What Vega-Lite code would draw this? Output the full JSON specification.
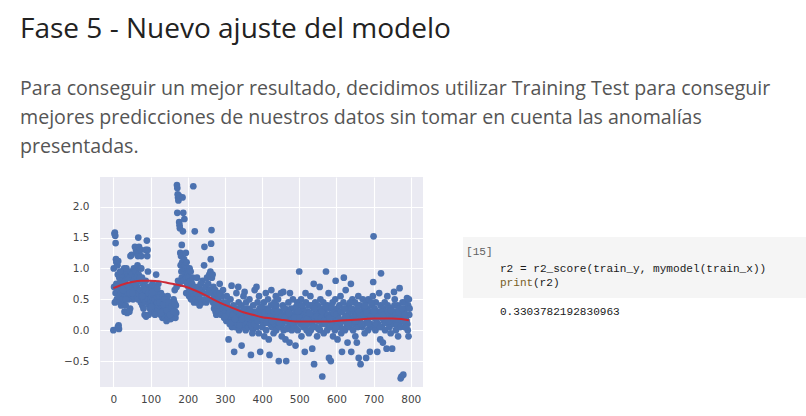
{
  "$schema": "https://vega.github.io/schema/vega-lite/v6.json",
  "background": "white",
  "padding": {"left": 20, "top": 16, "right": 0, "bottom": 0},
  "title": {
    "text": "Fase 5 - Nuevo ajuste del modelo",
    "subtitle": [
      "Para conseguir un mejor resultado, decidimos utilizar Training Test para conseguir",
      "mejores predicciones de nuestros datos sin tomar en cuenta las anomalías",
      "presentadas."
    ],
    "anchor": "start",
    "frame": "bounds",
    "dx": -43.5,
    "font": "Open Sans",
    "fontSize": 28,
    "fontWeight": "normal",
    "color": "#222222",
    "subtitleFont": "Open Sans",
    "subtitleFontSize": 19.6,
    "subtitleColor": "#555555",
    "subtitleLineHeight": 29,
    "subtitlePadding": 36,
    "offset": 20
  },
  "datasets": {
    "pts": [
      {"x":0,"y":0.0},{"x":1,"y":1.0},{"x":3,"y":1.56},{"x":4,"y":1.58},{"x":5,"y":1.53},{"x":6,"y":1.41},{"x":7,"y":1.15},{"x":8,"y":1.1},{"x":4,"y":0.45},{"x":9,"y":0.5},{"x":6,"y":0.6},{"x":8,"y":0.75},{"x":2,"y":0.7},
      {"x":12,"y":0.05},{"x":14,"y":0.08},{"x":15,"y":0.02},{"x":11,"y":1.05},{"x":13,"y":1.12},{"x":16,"y":0.85},{"x":17,"y":0.75},{"x":18,"y":0.45},{"x":19,"y":0.65},{"x":12,"y":0.9},{"x":15,"y":0.55},{"x":20,"y":0.8},
      {"x":21,"y":0.4},{"x":22,"y":0.7},{"x":23,"y":0.95},{"x":24,"y":0.55},{"x":25,"y":0.85},{"x":26,"y":0.45},{"x":27,"y":0.75},{"x":28,"y":0.6},{"x":29,"y":1.0},{"x":30,"y":0.3},{"x":24,"y":0.9},{"x":27,"y":0.5},
      {"x":31,"y":0.65},{"x":32,"y":0.8},{"x":33,"y":0.4},{"x":34,"y":0.95},{"x":35,"y":0.7},{"x":36,"y":0.55},{"x":37,"y":0.28},{"x":38,"y":0.85},{"x":39,"y":0.6},{"x":40,"y":0.9},{"x":35,"y":1.0},{"x":33,"y":0.75},
      {"x":41,"y":0.5},{"x":42,"y":0.7},{"x":43,"y":0.65},{"x":44,"y":0.85},{"x":45,"y":0.35},{"x":46,"y":1.2},{"x":47,"y":0.95},{"x":48,"y":0.6},{"x":49,"y":1.22},{"x":50,"y":0.75},{"x":43,"y":0.3},{"x":47,"y":0.55},
      {"x":51,"y":0.9},{"x":52,"y":0.7},{"x":53,"y":0.5},{"x":54,"y":0.8},{"x":55,"y":1.0},{"x":56,"y":0.65},{"x":57,"y":0.85},{"x":58,"y":1.35},{"x":59,"y":0.6},{"x":60,"y":0.95},{"x":55,"y":0.55},
      {"x":61,"y":1.3},{"x":62,"y":0.55},{"x":63,"y":1.25},{"x":64,"y":0.7},{"x":65,"y":1.05},{"x":66,"y":0.5},{"x":67,"y":1.5},{"x":68,"y":0.9},{"x":69,"y":1.35},{"x":70,"y":0.8},{"x":66,"y":1.2},{"x":68,"y":0.6},
      {"x":71,"y":1.0},{"x":72,"y":0.65},{"x":73,"y":1.3},{"x":74,"y":0.45},{"x":75,"y":1.2},{"x":76,"y":0.55},{"x":77,"y":0.85},{"x":78,"y":0.4},{"x":79,"y":0.75},{"x":80,"y":0.6},{"x":75,"y":1.0},
      {"x":81,"y":0.35},{"x":82,"y":0.5},{"x":83,"y":0.7},{"x":84,"y":0.25},{"x":85,"y":0.6},{"x":86,"y":0.45},{"x":87,"y":0.8},{"x":88,"y":0.22},{"x":89,"y":0.55},{"x":90,"y":1.45},{"x":87,"y":1.3},
      {"x":91,"y":1.2},{"x":92,"y":1.3},{"x":93,"y":0.95},{"x":94,"y":0.5},{"x":95,"y":0.7},{"x":96,"y":0.4},{"x":97,"y":0.6},{"x":98,"y":0.35},{"x":99,"y":0.65},{"x":100,"y":0.5},{"x":95,"y":0.25},
      {"x":10,"y":0.7},{"x":18,"y":0.95},{"x":26,"y":0.65},{"x":34,"y":0.5},{"x":44,"y":0.6},{"x":52,"y":0.6},{"x":58,"y":0.75},{"x":64,"y":0.85},{"x":72,"y":0.85},{"x":78,"y":0.55},{"x":86,"y":0.65},{"x":94,"y":0.6},
      {"x":101,"y":0.45},{"x":102,"y":0.6},{"x":103,"y":0.3},{"x":104,"y":0.55},{"x":105,"y":0.75},{"x":106,"y":0.4},{"x":107,"y":0.5},{"x":108,"y":0.35},{"x":109,"y":0.65},{"x":110,"y":0.45},
      {"x":111,"y":0.3},{"x":112,"y":0.5},{"x":113,"y":0.7},{"x":114,"y":0.4},{"x":115,"y":0.9},{"x":116,"y":0.55},{"x":117,"y":0.3},{"x":118,"y":0.45},{"x":119,"y":0.6},{"x":120,"y":0.35},
      {"x":121,"y":0.75},{"x":122,"y":0.4},{"x":123,"y":0.5},{"x":124,"y":0.3},{"x":125,"y":0.55},{"x":126,"y":0.45},{"x":127,"y":0.25},{"x":128,"y":0.6},{"x":129,"y":0.35},{"x":130,"y":0.5},
      {"x":131,"y":0.4},{"x":132,"y":0.2},{"x":133,"y":0.55},{"x":134,"y":0.3},{"x":135,"y":0.45},{"x":136,"y":0.25},{"x":137,"y":0.5},{"x":138,"y":0.35},{"x":139,"y":0.2},{"x":140,"y":0.4},
      {"x":141,"y":0.3},{"x":142,"y":0.5},{"x":143,"y":0.15},{"x":144,"y":0.45},{"x":145,"y":0.25},{"x":146,"y":0.55},{"x":147,"y":0.35},{"x":148,"y":0.2},{"x":149,"y":0.4},{"x":150,"y":0.3},
      {"x":151,"y":0.2},{"x":152,"y":0.45},{"x":153,"y":0.3},{"x":154,"y":0.18},{"x":155,"y":0.35},{"x":156,"y":0.25},{"x":157,"y":0.4},{"x":158,"y":0.2},{"x":159,"y":0.3},{"x":160,"y":0.22},
      {"x":161,"y":0.35},{"x":162,"y":0.5},{"x":163,"y":0.25},{"x":164,"y":0.45},{"x":165,"y":0.65},{"x":166,"y":0.3},{"x":167,"y":0.2},{"x":168,"y":0.4},{"x":169,"y":0.28},{"x":170,"y":0.7},
      {"x":102,"y":0.38},{"x":106,"y":0.62},{"x":112,"y":0.25},{"x":118,"y":0.68},{"x":124,"y":0.45},{"x":128,"y":0.28},{"x":134,"y":0.42},{"x":138,"y":0.5},{"x":144,"y":0.32},{"x":148,"y":0.45},{"x":152,"y":0.25},{"x":156,"y":0.38},{"x":162,"y":0.3},{"x":166,"y":0.42},
      {"x":171,"y":2.35},{"x":172,"y":2.3},{"x":173,"y":2.2},{"x":174,"y":2.15},{"x":175,"y":2.1},{"x":172,"y":1.9},{"x":176,"y":2.18},{"x":177,"y":1.75},{"x":178,"y":1.7},{"x":179,"y":1.65},{"x":174,"y":0.8},{"x":178,"y":0.75},{"x":180,"y":1.25},
      {"x":181,"y":1.05},{"x":182,"y":1.2},{"x":183,"y":0.95},{"x":184,"y":1.38},{"x":185,"y":1.1},{"x":186,"y":2.15},{"x":187,"y":1.6},{"x":188,"y":1.9},{"x":189,"y":1.0},{"x":190,"y":1.15},{"x":184,"y":0.85},{"x":188,"y":0.8},
      {"x":191,"y":1.8},{"x":192,"y":1.05},{"x":193,"y":0.9},{"x":194,"y":1.0},{"x":195,"y":1.25},{"x":196,"y":0.85},{"x":197,"y":1.1},{"x":198,"y":0.75},{"x":199,"y":0.95},{"x":200,"y":1.0},{"x":196,"y":0.6},
      {"x":201,"y":0.9},{"x":202,"y":0.7},{"x":203,"y":0.85},{"x":204,"y":0.55},{"x":205,"y":1.0},{"x":206,"y":0.6},{"x":207,"y":0.8},{"x":208,"y":0.95},{"x":209,"y":0.5},{"x":210,"y":0.7},
      {"x":211,"y":0.6},{"x":212,"y":0.75},{"x":213,"y":0.85},{"x":215,"y":2.33},{"x":216,"y":0.55},{"x":217,"y":0.45},{"x":219,"y":1.6},{"x":220,"y":0.65},{"x":214,"y":0.5},{"x":218,"y":0.7},
      {"x":222,"y":0.5},{"x":224,"y":0.6},{"x":226,"y":0.45},{"x":228,"y":0.7},{"x":230,"y":0.55},{"x":232,"y":0.4},{"x":234,"y":0.5},{"x":236,"y":0.65},{"x":238,"y":0.45},{"x":240,"y":0.8},{"x":225,"y":0.85},{"x":235,"y":0.75},
      {"x":242,"y":0.6},{"x":244,"y":1.05},{"x":245,"y":1.35},{"x":246,"y":0.5},{"x":248,"y":0.7},{"x":250,"y":0.45},{"x":252,"y":0.85},{"x":254,"y":0.6},{"x":256,"y":0.5},{"x":258,"y":0.9},{"x":260,"y":0.65},{"x":255,"y":0.75},
      {"x":261,"y":0.95},{"x":262,"y":1.15},{"x":263,"y":1.4},{"x":264,"y":1.62},{"x":265,"y":0.85},{"x":266,"y":0.6},{"x":267,"y":0.9},{"x":268,"y":0.45},{"x":269,"y":0.7},{"x":270,"y":0.5},
      {"x":271,"y":0.35},{"x":272,"y":0.55},{"x":273,"y":0.4},{"x":274,"y":0.65},{"x":275,"y":0.3},{"x":276,"y":0.5},{"x":277,"y":0.25},{"x":278,"y":0.45},{"x":279,"y":0.6},{"x":280,"y":0.35},
      {"x":282,"y":0.5},{"x":284,"y":0.3},{"x":286,"y":0.75},{"x":288,"y":0.4},{"x":290,"y":0.25},{"x":292,"y":0.55},{"x":294,"y":0.35},{"x":296,"y":0.45},{"x":298,"y":0.2},{"x":300,"y":0.4},{"x":285,"y":0.6},{"x":295,"y":0.65},
      {"x":302,"y":0.3},{"x":304,"y":0.15},{"x":306,"y":0.45},{"x":308,"y":0.25},{"x":310,"y":-0.15},{"x":311,"y":0.35},{"x":313,"y":0.1},{"x":315,"y":0.5},{"x":316,"y":0.2},{"x":318,"y":0.72},{"x":319,"y":0.05},{"x":320,"y":0.3},{"x":305,"y":0.55},
      {"x":322,"y":0.15},{"x":323,"y":0.4},{"x":325,"y":-0.35},{"x":326,"y":0.25},{"x":328,"y":0.05},{"x":330,"y":0.35},{"x":331,"y":0.6},{"x":333,"y":0.1},{"x":335,"y":0.2},{"x":337,"y":0.45},{"x":338,"y":0.0},{"x":340,"y":0.3},{"x":336,"y":0.7},
      {"x":342,"y":0.15},{"x":344,"y":0.4},{"x":345,"y":-0.25},{"x":347,"y":0.05},{"x":349,"y":0.25},{"x":350,"y":0.55},{"x":352,"y":0.1},{"x":354,"y":0.3},{"x":356,"y":0.0},{"x":357,"y":0.45},{"x":358,"y":0.2},{"x":360,"y":0.12},{"x":353,"y":0.62},
      {"x":362,"y":0.35},{"x":363,"y":0.05},{"x":365,"y":0.25},{"x":366,"y":0.5},{"x":368,"y":0.1},{"x":370,"y":-0.4},{"x":371,"y":0.3},{"x":373,"y":0.15},{"x":375,"y":0.0},{"x":376,"y":0.4},{"x":378,"y":0.2},{"x":380,"y":0.65},{"x":374,"y":-0.05},
      {"x":382,"y":0.1},{"x":384,"y":0.3},{"x":385,"y":0.7},{"x":386,"y":0.05},{"x":388,"y":0.45},{"x":390,"y":0.2},{"x":391,"y":-0.05},{"x":393,"y":0.35},{"x":395,"y":-0.35},{"x":396,"y":0.15},{"x":398,"y":0.25},{"x":400,"y":0.05},{"x":392,"y":0.55},
      {"x":402,"y":0.3},{"x":403,"y":0.1},{"x":405,"y":0.45},{"x":406,"y":-0.1},{"x":408,"y":0.2},{"x":410,"y":0.6},{"x":411,"y":0.0},{"x":413,"y":0.35},{"x":415,"y":0.15},{"x":416,"y":0.5},{"x":418,"y":-0.15},{"x":420,"y":-0.4},{"x":419,"y":0.25},
      {"x":422,"y":0.1},{"x":424,"y":0.4},{"x":425,"y":0.65},{"x":426,"y":0.05},{"x":428,"y":0.3},{"x":430,"y":0.2},{"x":431,"y":-0.05},{"x":433,"y":0.45},{"x":435,"y":0.1},{"x":436,"y":0.35},{"x":438,"y":0.0},{"x":440,"y":0.25},{"x":437,"y":0.55},
      {"x":442,"y":0.15},{"x":443,"y":0.5},{"x":445,"y":-0.5},{"x":446,"y":0.05},{"x":448,"y":0.3},{"x":450,"y":0.2},{"x":451,"y":0.6},{"x":453,"y":-0.1},{"x":455,"y":0.1},{"x":456,"y":0.4},{"x":458,"y":0.0},{"x":460,"y":0.25},{"x":457,"y":0.62},
      {"x":462,"y":0.35},{"x":463,"y":-0.15},{"x":465,"y":-0.5},{"x":466,"y":0.15},{"x":468,"y":0.3},{"x":470,"y":0.05},{"x":471,"y":0.45},{"x":473,"y":0.2},{"x":475,"y":0.6},{"x":476,"y":0.1},{"x":478,"y":0.35},{"x":480,"y":0.0},{"x":474,"y":-0.2},
      {"x":482,"y":0.25},{"x":483,"y":0.5},{"x":485,"y":0.1},{"x":486,"y":0.35},{"x":488,"y":0.05},{"x":490,"y":-0.25},{"x":491,"y":0.3},{"x":493,"y":0.15},{"x":495,"y":0.45},{"x":496,"y":0.0},{"x":498,"y":0.2},{"x":500,"y":0.95},{"x":499,"y":0.4},
      {"x":502,"y":0.3},{"x":503,"y":0.1},{"x":505,"y":0.5},{"x":506,"y":-0.1},{"x":508,"y":0.2},{"x":510,"y":0.35},{"x":511,"y":0.05},{"x":513,"y":0.25},{"x":515,"y":-0.35},{"x":516,"y":0.15},{"x":518,"y":0.45},{"x":520,"y":0.0},{"x":517,"y":0.6},
      {"x":522,"y":0.3},{"x":523,"y":0.1},{"x":525,"y":0.4},{"x":526,"y":-0.05},{"x":528,"y":0.2},{"x":530,"y":0.55},{"x":531,"y":0.0},{"x":533,"y":0.25},{"x":535,"y":-0.3},{"x":536,"y":0.12},{"x":538,"y":0.35},{"x":540,"y":-0.55},{"x":539,"y":0.75},
      {"x":542,"y":0.2},{"x":543,"y":0.45},{"x":545,"y":0.05},{"x":546,"y":0.3},{"x":548,"y":-0.1},{"x":550,"y":0.4},{"x":551,"y":0.15},{"x":553,"y":0.25},{"x":555,"y":0.7},{"x":556,"y":0.0},{"x":558,"y":0.35},{"x":560,"y":0.1},{"x":557,"y":0.5},
      {"x":562,"y":-0.75},{"x":563,"y":0.2},{"x":565,"y":0.45},{"x":566,"y":-0.05},{"x":568,"y":0.3},{"x":570,"y":0.1},{"x":572,"y":0.95},{"x":573,"y":0.25},{"x":575,"y":0.0},{"x":576,"y":0.4},{"x":578,"y":0.15},{"x":580,"y":-0.45},{"x":579,"y":0.6},
      {"x":582,"y":0.35},{"x":583,"y":0.05},{"x":585,"y":-0.5},{"x":586,"y":0.25},{"x":588,"y":0.1},{"x":590,"y":0.45},{"x":591,"y":-0.1},{"x":593,"y":0.2},{"x":595,"y":0.3},{"x":596,"y":0.0},{"x":598,"y":0.8},{"x":600,"y":0.15},{"x":597,"y":0.5},
      {"x":602,"y":0.35},{"x":603,"y":-0.15},{"x":605,"y":0.25},{"x":606,"y":0.05},{"x":608,"y":0.4},{"x":610,"y":0.1},{"x":611,"y":0.55},{"x":613,"y":-0.05},{"x":615,"y":-0.35},{"x":616,"y":0.3},{"x":618,"y":0.15},{"x":620,"y":0.85},{"x":619,"y":0.45},
      {"x":622,"y":0.2},{"x":623,"y":0.0},{"x":625,"y":0.65},{"x":626,"y":0.35},{"x":628,"y":0.1},{"x":630,"y":-0.2},{"x":631,"y":0.25},{"x":633,"y":0.4},{"x":635,"y":0.05},{"x":636,"y":0.3},{"x":638,"y":0.15},{"x":640,"y":-0.35},{"x":639,"y":0.75},
      {"x":642,"y":0.2},{"x":643,"y":0.5},{"x":645,"y":0.0},{"x":646,"y":0.3},{"x":648,"y":0.1},{"x":650,"y":0.45},{"x":651,"y":-0.1},{"x":653,"y":0.25},{"x":655,"y":-0.2},{"x":656,"y":0.35},{"x":658,"y":0.05},{"x":660,"y":-0.45},{"x":659,"y":0.55},
      {"x":662,"y":0.15},{"x":663,"y":0.4},{"x":665,"y":-0.55},{"x":666,"y":0.2},{"x":668,"y":0.3},{"x":670,"y":0.05},{"x":671,"y":0.5},{"x":673,"y":0.1},{"x":675,"y":0.35},{"x":676,"y":-0.05},{"x":678,"y":0.25},{"x":680,"y":-0.45},{"x":679,"y":0.45},
      {"x":682,"y":0.15},{"x":683,"y":0.35},{"x":685,"y":0.0},{"x":686,"y":0.5},{"x":688,"y":0.2},{"x":690,"y":-0.35},{"x":691,"y":0.3},{"x":693,"y":0.1},{"x":695,"y":0.4},{"x":696,"y":0.05},{"x":698,"y":0.55},{"x":700,"y":1.52},{"x":699,"y":0.78},{"x":697,"y":0.25},
      {"x":702,"y":0.2},{"x":703,"y":0.35},{"x":705,"y":0.0},{"x":706,"y":0.45},{"x":708,"y":0.15},{"x":710,"y":-0.35},{"x":711,"y":0.3},{"x":713,"y":0.1},{"x":715,"y":0.6},{"x":716,"y":0.25},{"x":718,"y":-0.15},{"x":720,"y":0.92},{"x":719,"y":0.4},
      {"x":722,"y":0.2},{"x":723,"y":0.05},{"x":725,"y":-0.2},{"x":726,"y":0.35},{"x":728,"y":0.15},{"x":730,"y":0.45},{"x":731,"y":0.0},{"x":733,"y":0.3},{"x":735,"y":-0.3},{"x":736,"y":0.2},{"x":738,"y":0.4},{"x":740,"y":0.1},{"x":737,"y":0.55},
      {"x":742,"y":0.25},{"x":743,"y":0.05},{"x":745,"y":0.35},{"x":746,"y":-0.05},{"x":748,"y":0.2},{"x":750,"y":-0.3},{"x":751,"y":0.3},{"x":753,"y":0.1},{"x":755,"y":0.62},{"x":756,"y":0.4},{"x":758,"y":0.15},{"x":760,"y":0.0},{"x":757,"y":0.5},
      {"x":762,"y":0.3},{"x":763,"y":0.1},{"x":765,"y":0.4},{"x":766,"y":-0.1},{"x":768,"y":0.2},{"x":770,"y":0.68},{"x":771,"y":0.35},{"x":773,"y":-0.78},{"x":775,"y":-0.75},{"x":776,"y":0.15},{"x":778,"y":0.45},{"x":780,"y":-0.72},{"x":779,"y":0.25},
      {"x":782,"y":0.3},{"x":783,"y":0.05},{"x":785,"y":0.45},{"x":786,"y":0.2},{"x":788,"y":0.35},{"x":790,"y":0.52},{"x":791,"y":0.1},{"x":793,"y":0.4},{"x":795,"y":0.5},{"x":794,"y":-0.1},{"x":796,"y":0.25},{"x":792,"y":0.0},{"x":789,"y":0.15},
      {"x":301,"y":0.22},{"x":307,"y":0.38},{"x":312,"y":0.28},{"x":317,"y":0.12},{"x":321,"y":0.25},{"x":327,"y":0.18},{"x":332,"y":0.32},{"x":339,"y":0.08},
      {"x":341,"y":0.28},{"x":346,"y":0.18},{"x":351,"y":0.35},{"x":359,"y":0.28},{"x":361,"y":0.2},{"x":367,"y":0.32},{"x":372,"y":0.08},{"x":379,"y":0.1},
      {"x":381,"y":0.25},{"x":387,"y":0.15},{"x":394,"y":0.22},{"x":399,"y":0.38},{"x":401,"y":0.18},{"x":407,"y":0.28},{"x":412,"y":0.12},{"x":417,"y":0.32},
      {"x":421,"y":0.22},{"x":427,"y":0.15},{"x":432,"y":0.3},{"x":439,"y":0.4},{"x":441,"y":0.3},{"x":447,"y":0.12},{"x":452,"y":0.22},{"x":459,"y":0.35},
      {"x":461,"y":0.2},{"x":467,"y":0.02},{"x":472,"y":0.28},{"x":479,"y":0.15},{"x":481,"y":0.12},{"x":487,"y":0.2},{"x":492,"y":0.38},{"x":497,"y":0.3},
      {"x":501,"y":0.2},{"x":507,"y":0.4},{"x":512,"y":0.15},{"x":519,"y":0.3},{"x":521,"y":0.18},{"x":527,"y":0.28},{"x":532,"y":0.4},{"x":537,"y":0.05},
      {"x":541,"y":0.35},{"x":547,"y":0.22},{"x":552,"y":0.02},{"x":559,"y":0.2},{"x":561,"y":0.3},{"x":567,"y":0.15},{"x":571,"y":0.38},{"x":577,"y":0.25},
      {"x":581,"y":0.2},{"x":587,"y":0.38},{"x":592,"y":0.28},{"x":599,"y":0.05},{"x":601,"y":0.25},{"x":607,"y":0.18},{"x":612,"y":0.3},{"x":617,"y":0.02},
      {"x":621,"y":0.35},{"x":627,"y":0.22},{"x":632,"y":0.12},{"x":637,"y":0.45},{"x":641,"y":0.35},{"x":647,"y":0.2},{"x":652,"y":0.15},{"x":657,"y":0.4},
      {"x":661,"y":0.3},{"x":667,"y":0.1},{"x":672,"y":0.25},{"x":677,"y":0.4},{"x":681,"y":0.28},{"x":687,"y":0.1},{"x":692,"y":0.22},{"x":694,"y":0.45},
      {"x":701,"y":0.3},{"x":707,"y":0.1},{"x":712,"y":0.22},{"x":717,"y":0.05},{"x":721,"y":0.3},{"x":727,"y":0.25},{"x":732,"y":0.12},{"x":739,"y":0.3},
      {"x":741,"y":0.15},{"x":747,"y":0.32},{"x":752,"y":0.2},{"x":759,"y":0.25},{"x":761,"y":0.18},{"x":767,"y":0.3},{"x":772,"y":0.05},{"x":777,"y":0.35},
      {"x":781,"y":0.15},{"x":784,"y":0.25},{"x":787,"y":0.05},{"x":797,"y":0.35}
    ],
    "fit": [
      {"x":0,"y":0.68},{"x":25,"y":0.74},{"x":50,"y":0.78},{"x":75,"y":0.80},{"x":100,"y":0.80},{"x":125,"y":0.79},{"x":150,"y":0.76},{"x":175,"y":0.73},{"x":200,"y":0.69},{"x":225,"y":0.63},{"x":250,"y":0.56},{"x":275,"y":0.48},{"x":300,"y":0.41},{"x":325,"y":0.35},{"x":350,"y":0.29},{"x":375,"y":0.25},{"x":400,"y":0.21},{"x":425,"y":0.19},{"x":450,"y":0.17},{"x":475,"y":0.15},{"x":500,"y":0.14},{"x":525,"y":0.14},{"x":550,"y":0.14},{"x":575,"y":0.14},{"x":600,"y":0.15},{"x":625,"y":0.16},{"x":650,"y":0.17},{"x":675,"y":0.18},{"x":700,"y":0.19},{"x":725,"y":0.19},{"x":750,"y":0.19},{"x":775,"y":0.18},{"x":795,"y":0.16}
    ],
    "cell": [
      {"x0":0,"x1":52,"y0":4.0,"y1":8.07}
    ],
    "code": [
      {"col":0.45,"row":5.0,"part":"prompt","txt":"[15]"},
      {"col":5.6,"row":6.13,"part":"code","txt":"r2 = r2_score(train_y, mymodel(train_x))"},
      {"col":5.6,"row":7.07,"part":"builtin","txt":"print"},
      {"col":10.6,"row":7.07,"part":"code","txt":"(r2)"},
      {"col":5.6,"row":9.0,"part":"output","txt":"0.3303782192830963"}
    ]
  },
  "spacing": 40,
  "hconcat": [
    {
      "width": 323,
      "height": 210,
      "view": {"fill": "#EAEAF2", "stroke": null},
      "encoding": {
        "x": {
          "field": "x", "type": "quantitative",
          "scale": {"domain": [-36, 833], "nice": false, "zero": false},
          "axis": {"values": [0,100,200,300,400,500,600,700,800], "title": null, "domain": false, "ticks": false,
                   "grid": true, "gridColor": "white", "gridWidth": 1.1,
                   "labelFont": "DejaVu Sans", "labelFontSize": 10.5, "labelColor": "#444444", "labelPadding": 7}
        },
        "y": {
          "field": "y", "type": "quantitative",
          "scale": {"domain": [-0.92, 2.48], "nice": false, "zero": false},
          "axis": {"values": [-0.5,0,0.5,1,1.5,2], "format": ".1f", "title": null, "domain": false, "ticks": false,
                   "grid": true, "gridColor": "white", "gridWidth": 1.1,
                   "labelFont": "DejaVu Sans", "labelFontSize": 10.5, "labelColor": "#444444", "labelPadding": 11}
        }
      },
      "layer": [
        {
          "data": {"name": "pts"},
          "mark": {"type": "circle", "size": 45, "opacity": 1, "color": "#4C72B0"}
        },
        {
          "data": {"name": "fit"},
          "mark": {"type": "line", "color": "#CC2936", "strokeWidth": 2, "interpolate": "monotone"}
        }
      ]
    },
    {
      "width": 343,
      "height": 210,
      "view": {"stroke": null},
      "layer": [
        {
          "data": {"name": "cell"},
          "mark": {"type": "rect", "color": "#F5F5F5"},
          "encoding": {
            "x": {"field": "x0", "type": "quantitative", "scale": {"domain": [0, 52], "nice": false, "zero": false}, "axis": null},
            "x2": {"field": "x1"},
            "y": {"field": "y0", "type": "quantitative", "scale": {"domain": [14, 0], "nice": false, "zero": false}, "axis": null},
            "y2": {"field": "y1"}
          }
        },
        {
          "data": {"name": "code"},
          "mark": {"type": "text", "align": "left", "baseline": "middle", "font": "Liberation Mono", "fontSize": 11.1},
          "encoding": {
            "x": {"field": "col", "type": "quantitative", "axis": null},
            "y": {"field": "row", "type": "quantitative", "axis": null},
            "text": {"field": "txt"},
            "color": {
              "field": "part", "type": "nominal", "legend": null,
              "scale": {"domain": ["prompt", "code", "builtin", "output"], "range": ["#616161", "#1a1a1a", "#795E26", "#1a1a1a"]}
            }
          }
        }
      ]
    }
  ],
  "config": {
    "view": {"stroke": null}
  }
}
